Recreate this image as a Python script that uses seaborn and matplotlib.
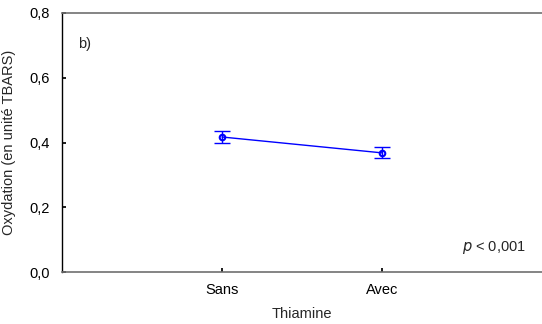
import matplotlib
matplotlib.use("Agg")
import matplotlib.pyplot as plt
import seaborn as sns
import pandas as pd
from matplotlib.ticker import FuncFormatter

sns.set_theme(style="white")
plt.rcParams['font.family'] = ['Liberation Sans', 'DejaVu Sans']

categories = ["Sans", "Avec"]
means = [0.417, 0.368]
err_low = [0.017, 0.016]
err_high = [0.017, 0.017]
y_ticks = [0.0, 0.2, 0.4, 0.6, 0.8]

df = pd.DataFrame({"Thiamine": categories, "Oxydation": means})

fig = plt.figure(figsize=(5.42, 3.24), dpi=100)
ax = fig.add_axes([62/542, 52/324, 480/542, 259/324])

sns.pointplot(data=df, x="Thiamine", y="Oxydation", color="blue", markers="o",
              linestyles="-", errorbar=None, ax=ax, markersize=4,
              markerfacecolor="none", markeredgewidth=1.5, linewidth=1)
ax.errorbar(range(len(categories)), means, yerr=[err_low, err_high], fmt="none",
            ecolor="blue", elinewidth=1, capsize=5.5, capthick=1)

fs = 10.5
ax.set_xlim(-1, 2)
ax.set_ylim(0, 0.8)
ax.set_yticks(y_ticks)
ax.yaxis.set_major_formatter(FuncFormatter(lambda v, p: f"{v:.1f}".replace(".", ",")))
ax.tick_params(axis="both", direction="in", length=3, labelsize=fs, colors="black",
               left=True, bottom=True)
ax.tick_params(axis="y", pad=9)
ax.tick_params(axis="x", pad=8)
for s in ["top", "bottom"]:
    ax.spines[s].set_color("#707070")
    ax.spines[s].set_linewidth(1.2)
ax.spines["left"].set_color("black")
ax.spines["left"].set_linewidth(1)
ax.spines["right"].set_visible(False)

ax.set_xlabel("Thiamine", fontsize=fs, labelpad=7)
ax.set_ylabel("Oxydation (en unité TBARS)", fontsize=fs, labelpad=9)

ax.text(0.033, 0.865, "b)", transform=ax.transAxes, fontsize=fs)
ax.text(0.833, 0.08, r"$\it{p}$ < 0,001", transform=ax.transAxes, fontsize=fs)

fig.savefig("out.png", dpi=100)
